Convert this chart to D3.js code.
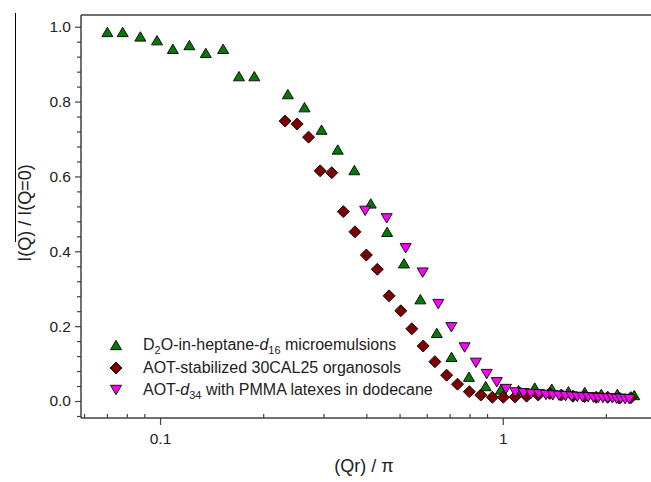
<!DOCTYPE html>
<html><head><meta charset="utf-8">
<script src="https://cdn.jsdelivr.net/npm/d3@7/dist/d3.min.js"></script>
<style>body{margin:0;background:#fff}svg{display:block;font-family:"Liberation Sans",Arial,sans-serif}</style>
</head><body><svg id="c" width="651" height="482"></svg>
<script>
// D2O-in-heptane-d16 microemulsions (green up-triangles)
const greenX = [0.0702,0.0778,0.0876,0.098,0.109,0.1218,0.136,0.1528,0.170,0.1884,0.236,0.264,0.296,0.330,0.369,0.412,0.460,0.515,0.575,0.642,0.709,0.797,0.892,0.988,1.112,1.240,1.390,1.555,1.735,1.94,2.16,2.42];
const greenY = [0.986,0.986,0.974,0.964,0.941,0.951,0.930,0.941,0.868,0.868,0.820,0.785,0.725,0.672,0.617,0.528,0.452,0.368,0.272,0.182,0.118,0.065,0.040,0.031,0.029,0.036,0.033,0.026,0.024,0.019,0.019,0.016];
// AOT-stabilized 30CAL25 organosols (dark red diamonds)
const redX = [0.2317,0.2512,0.2713,0.2932,0.3170,0.3427,0.3706,0.400,0.4306,0.466,0.504,0.543,0.586,0.634,0.686,0.738,0.799,0.863,0.933,1.004,1.086,1.174,1.269,1.372,1.483,1.603,1.733,1.873,2.025,2.189,2.366];
const redY = [0.748,0.740,0.705,0.615,0.610,0.506,0.452,0.390,0.352,0.281,0.241,0.193,0.147,0.105,0.069,0.045,0.025,0.016,0.010,0.010,0.011,0.013,0.016,0.020,0.016,0.013,0.012,0.010,0.010,0.008,0.009];
// AOT-d34 with PMMA latexes in dodecane (magenta down-triangles)
const magX = [0.3968,0.4586,0.521,0.584,0.6486,0.708,0.774,0.835,0.898,0.961,1.022,1.088,1.15,1.21,1.275,1.337,1.40,1.46,1.525,1.59,1.65,1.71,1.775,1.84,1.90,1.96,2.025,2.09,2.15,2.21,2.275,2.34];
const magY = [0.508,0.488,0.408,0.343,0.259,0.197,0.143,0.102,0.072,0.050,0.032,0.023,0.021,0.019,0.018,0.016,0.015,0.014,0.013,0.012,0.011,0.010,0.010,0.009,0.008,0.008,0.007,0.007,0.006,0.006,0.005,0.005];
const yTicks = [0.0,0.2,0.4,0.6,0.8,1.0];
const yMinor = [-0.04,0.04,0.08,0.12,0.16,0.24,0.28,0.32,0.36,0.44,0.48,0.52,0.56,0.64,0.68,0.72,0.76,0.84,0.88,0.92,0.96];
const xTicks = [0.1,1];
const xMinor = [0.06,0.07,0.08,0.09,0.2,0.3,0.4,0.5,0.6,0.7,0.8,0.9,2];

const svg = d3.select("#c");
const L=81, R=660, T=15, B=418;
const x = d3.scaleLog().domain([0.0588,2.877]).range([L,R]);
const y = d3.scaleLinear().domain([-0.0454,1.0313]).range([B,T]);
const axisCol = "#404040";

// odd vertical line near y label
svg.append("line").attr("x1",15.5).attr("x2",15.5).attr("y1",13).attr("y2",242).attr("stroke","#000").attr("stroke-width",1);

// frame lines
svg.append("line").attr("x1",L).attr("x2",651).attr("y1",T).attr("y2",T).attr("stroke",axisCol).attr("stroke-width",1.5);

// y axis
const ya = svg.append("g").attr("transform",`translate(${L},0)`)
  .call(d3.axisLeft(y).tickValues(yTicks).tickFormat(d3.format(".1f")).tickSize(6).tickPadding(4));
ya.select(".domain").remove();
ya.selectAll("text").attr("font-size",15.5).attr("fill","#222").attr("font-family","Liberation Sans, Arial, sans-serif");
ya.selectAll(".tick line").attr("stroke",axisCol).attr("stroke-width",1.2);
const ym = svg.append("g").attr("transform",`translate(${L},0)`)
  .call(d3.axisLeft(y).tickValues(yMinor).tickFormat("").tickSize(4));
ym.select(".domain").remove();
ym.selectAll(".tick line").attr("stroke",axisCol).attr("stroke-width",1.2);
svg.append("line").attr("x1",L).attr("x2",L).attr("y1",T).attr("y2",B).attr("stroke",axisCol).attr("stroke-width",1.5);

// x axis
const xa = svg.append("g").attr("transform",`translate(0,${B})`)
  .call(d3.axisBottom(x).tickValues(xTicks).tickFormat(d=>String(d)).tickSize(7).tickPadding(8));
xa.select(".domain").remove();
xa.selectAll("text").attr("font-size",15.5).attr("fill","#222").attr("font-family","Liberation Sans, Arial, sans-serif");
xa.selectAll(".tick line").attr("stroke",axisCol).attr("stroke-width",1.2);
const xm = svg.append("g").attr("transform",`translate(0,${B})`)
  .call(d3.axisTop(x).tickValues(xMinor).tickFormat("").tickSize(4));
xm.select(".domain").remove();
xm.selectAll(".tick line").attr("stroke",axisCol).attr("stroke-width",1.2);
svg.append("line").attr("x1",L).attr("x2",651).attr("y1",B).attr("y2",B).attr("stroke",axisCol).attr("stroke-width",1.5);

// markers
const s = 5.5;
const upTri = `M0,${-s*0.85}L${s},${s*0.85}L${-s},${s*0.85}Z`;
const downTri = `M0,${s*0.85}L${s},${-s*0.85}L${-s},${-s*0.85}Z`;
const diamond = `M0,${-6}L6,0L0,6L-6,0Z`;
const series = [
  {xs:greenX, ys:greenY, path:upTri, fill:"#047a04"},
  {xs:redX, ys:redY, path:diamond, fill:"#7d0000"},
  {xs:magX, ys:magY, path:downTri, fill:"#ff00ff"}
];
series.forEach(sr=>{
  svg.append("g").selectAll("path").data(sr.xs.map((v,i)=>[v,sr.ys[i]])).join("path")
    .attr("d",sr.path).attr("transform",d=>`translate(${x(d[0])},${y(d[1])})`)
    .attr("fill",sr.fill).attr("stroke","#111").attr("stroke-width",1);
});

// legend
const leg = svg.append("g").attr("font-size",16).attr("fill","#222");
const rows = [345,368,390];
[upTri,diamond,downTri].forEach((p,i)=>{
  leg.append("path").attr("d",p).attr("transform",`translate(116,${rows[i]})`)
    .attr("fill",series[i].fill).attr("stroke","#111").attr("stroke-width",1);
});
const t1 = leg.append("text").attr("x",143).attr("y",rows[0]+5);
t1.append("tspan").text("D");
t1.append("tspan").text("2").attr("font-size",11).attr("dy",4);
t1.append("tspan").text("O-in-heptane-").attr("dy",-4);
t1.append("tspan").text("d").attr("font-style","italic");
t1.append("tspan").text("16").attr("font-size",11).attr("dy",4);
t1.append("tspan").text(" microemulsions").attr("dy",-4);
leg.append("text").attr("x",143).attr("y",rows[1]+5).text("AOT-stabilized 30CAL25 organosols");
const t3 = leg.append("text").attr("x",143).attr("y",rows[2]+5);
t3.append("tspan").text("AOT-");
t3.append("tspan").text("d").attr("font-style","italic");
t3.append("tspan").text("34").attr("font-size",11).attr("dy",4);
t3.append("tspan").text(" with PMMA latexes in dodecane").attr("dy",-4);

// axis titles
svg.append("text").attr("transform","translate(31,213) rotate(-90)").attr("text-anchor","middle")
  .attr("font-size",18).attr("fill","#222").text("I(Q) / I(Q=0)");
svg.append("text").attr("x",364).attr("y",472).attr("text-anchor","middle")
  .attr("font-size",18).attr("fill","#222").text("(Qr) / π");
</script></body></html>
